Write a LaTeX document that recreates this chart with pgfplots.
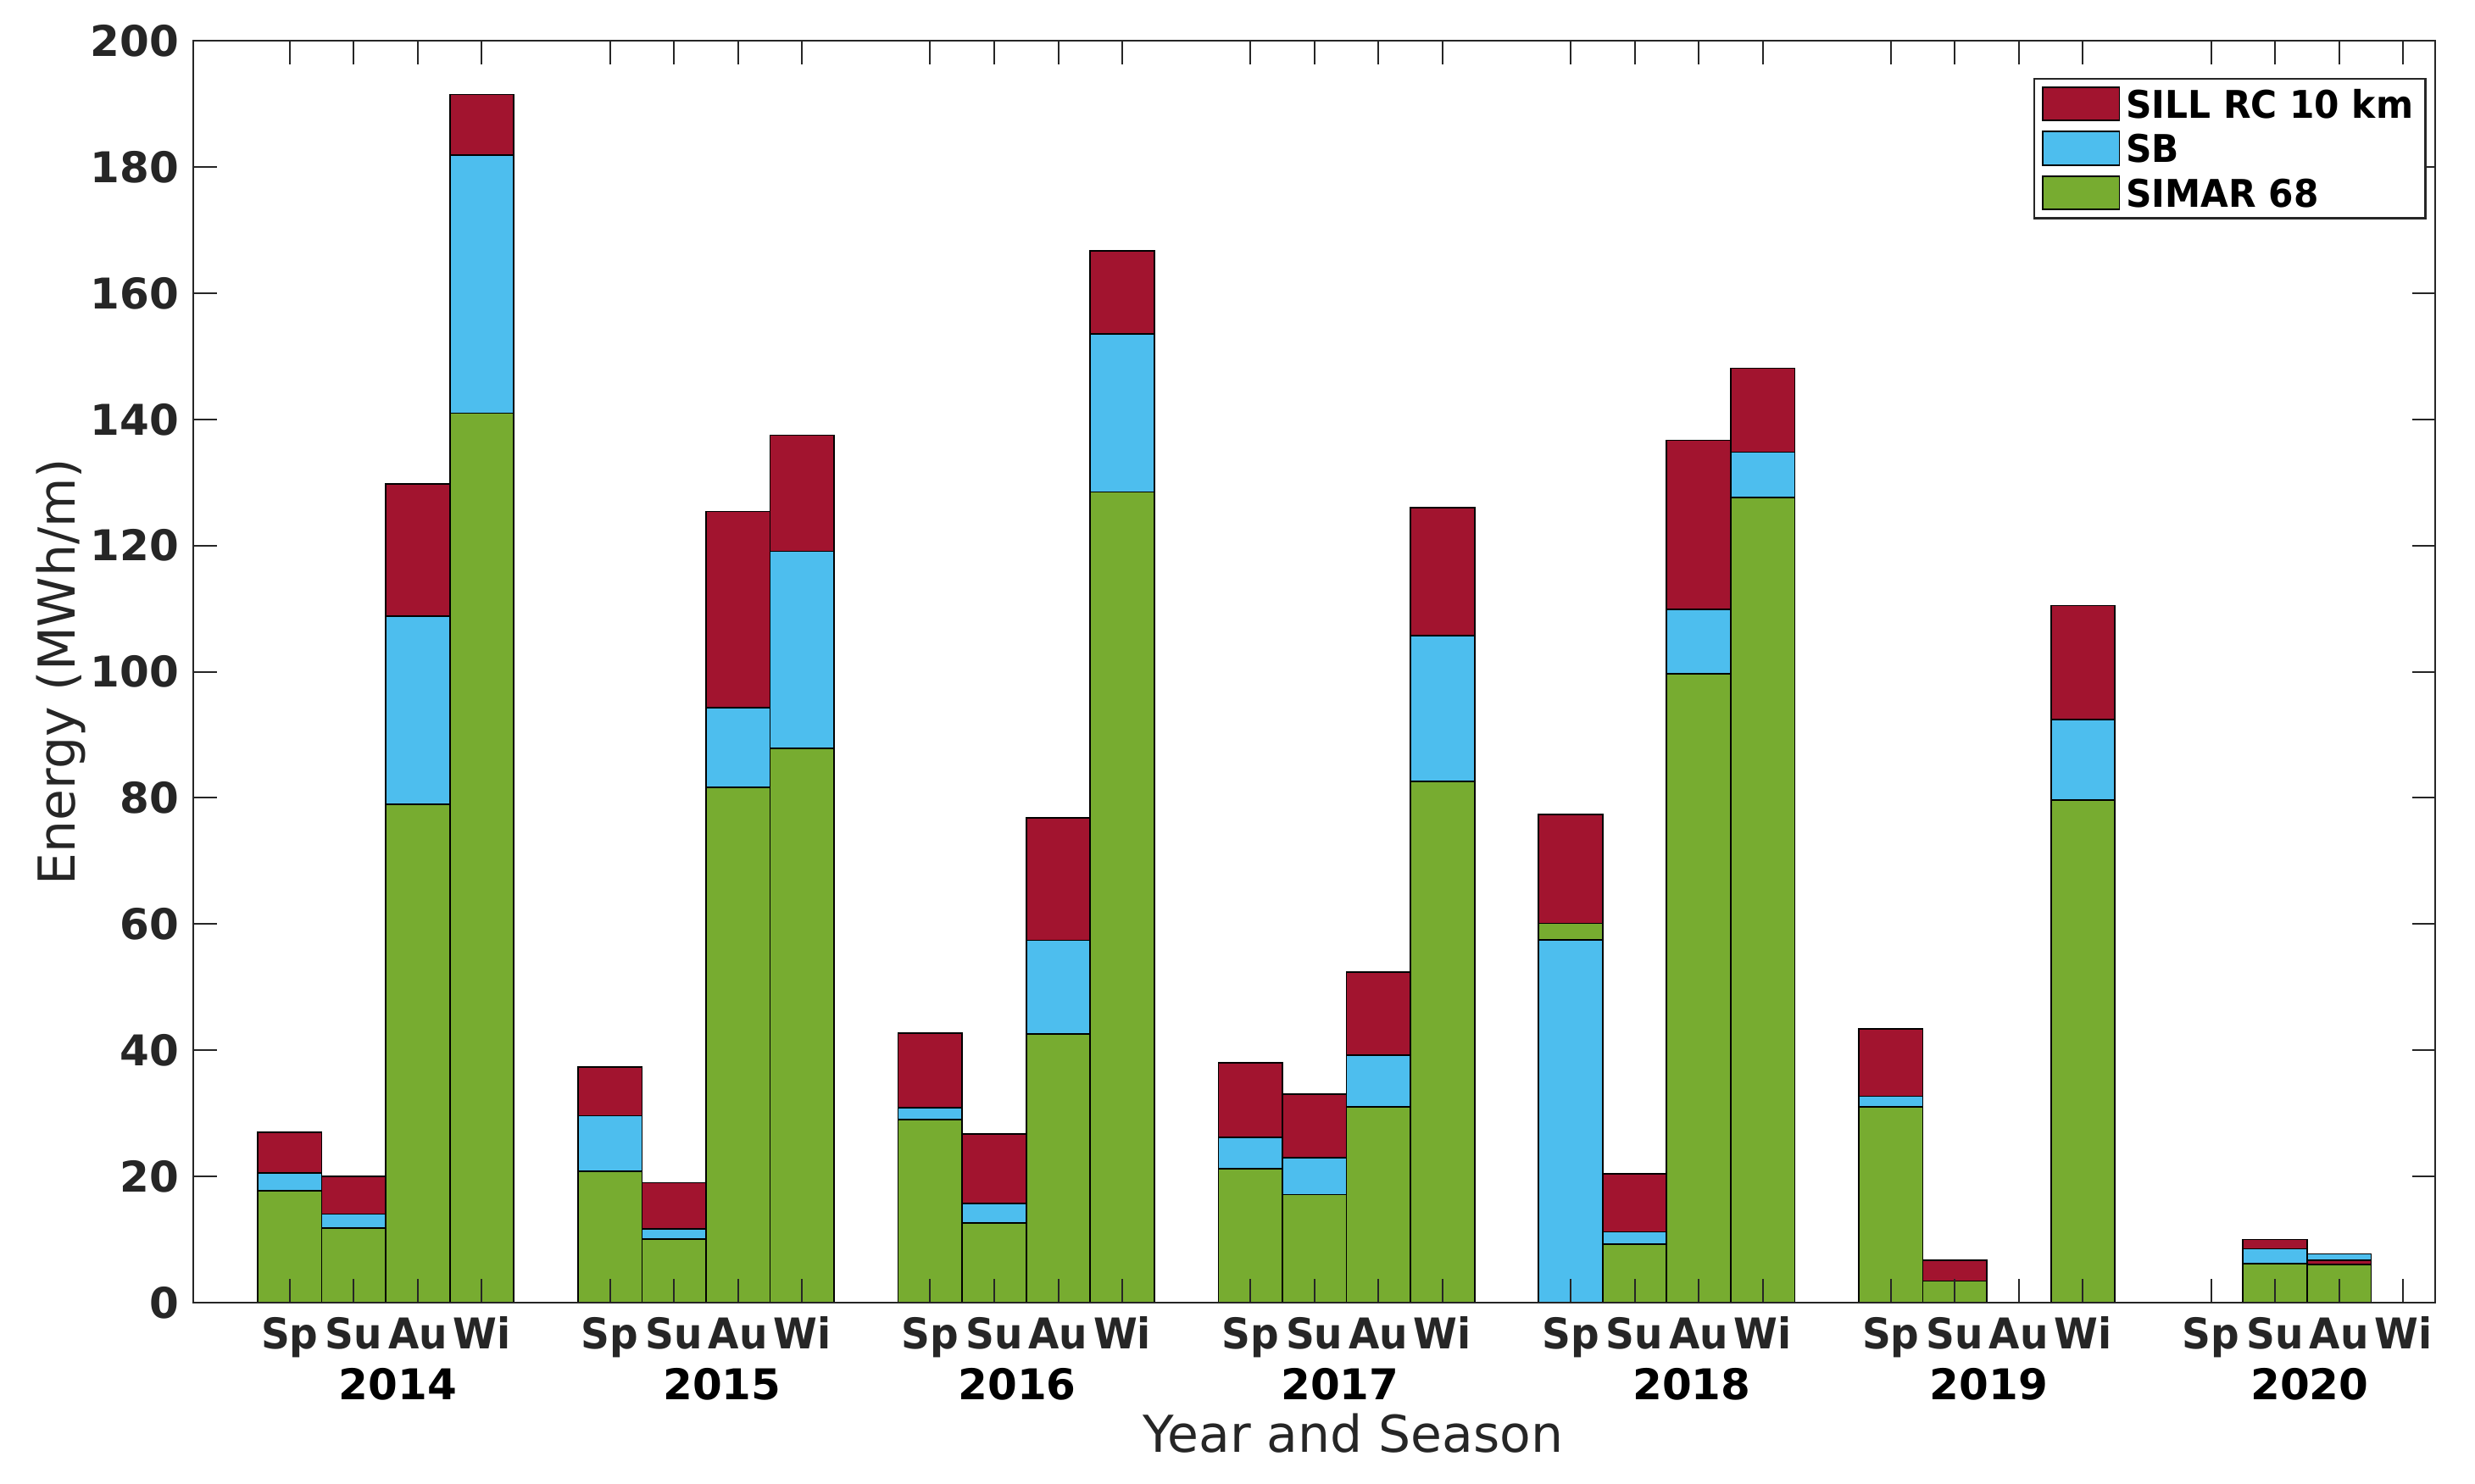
\documentclass[border=0pt]{standalone}
\usepackage{fontspec}
\setmainfont{DejaVu Sans}
\newfontfamily\narrowfont{DejaVu Sans}[FakeStretch=0.94]
\usepackage{pgfplots}
\pgfplotsset{compat=1.18}
\definecolor{sillred}{HTML}{A2142F}
\definecolor{sbblue}{HTML}{4DBEEE}
\definecolor{simargreen}{HTML}{77AC30}
\definecolor{axgray}{HTML}{262626}

\pgfplotsset{
  seasonbar/.style={ybar, bar width=1, bar shift=0pt, draw=black, line width=0.35pt},
}

\begin{document}
\begin{tikzpicture}
\begin{axis}[
  scale only axis,
  width=528.9pt, height=297.7pt,
  xmin=-1.5, xmax=33.5,
  ymin=0, ymax=200,
  ytick={0,20,...,200},
  xtick={0,1,2,3,5,6,7,8,10,11,12,13,15,16,17,18,20,21,22,23,25,26,27,28,30,31,32,33},
  xticklabels={Sp,Su,Au,Wi,Sp,Su,Au,Wi,Sp,Su,Au,Wi,Sp,Su,Au,Wi,Sp,Su,Au,Wi,Sp,Su,Au,Wi,Sp,Su,Au,Wi},
  extra x ticks={1.69,6.75,11.36,16.40,21.89,26.53,31.54},
  extra x tick labels={2014,2015,2016,2017,2018,2019,2020},
  extra x tick style={major tick length=0pt,
    xticklabel style={yshift=-12pt, text=black, font=\fontsize{10}{12}\selectfont\bfseries}},
  tick align=inside,
  major tick length=5.5pt,
  tick style={draw=axgray, line width=0.4pt},
  axis line style={draw=axgray, line width=0.4pt},
  axis on top,
  tick label style={font=\fontsize{10}{12}\selectfont\bfseries, text=axgray},
  xticklabel style={anchor=base, yshift=-10.9pt, font=\narrowfont\fontsize{10}{12}\selectfont\bfseries},
  /pgf/number format/assume math mode=true,
  every axis y label/.style={at={(axis description cs:-0.0531,0.5)}, rotate=90, anchor=base,
    font=\fontsize{12}{14}\selectfont, text=axgray},
  every axis x label/.style={at={(axis description cs:0.5174,-0.1184)}, anchor=base,
    font=\fontsize{12}{14}\selectfont, text=axgray},
  ylabel={Energy (MWh/m)},
  xlabel={Year and Season},
  legend style={at={(0.9962,0.9709)}, anchor=north east, draw=axgray, line width=0.5pt,
    font=\narrowfont\fontsize{9}{10.5}\selectfont\bfseries, inner xsep=1.9pt, inner ysep=0.7pt,
    cells={anchor=west}, column sep=0.4pt,
    nodes={inner xsep=1pt, inner ysep=1.55pt, text height=7pt, text depth=0.4pt}},
  legend image code/.code={\draw[#1] (0pt,-3.95pt) rectangle (18pt,3.95pt);},
]
% SB bar that sits behind SILL (2020 Au)
\addplot[seasonbar, fill=sbblue, forget plot] coordinates {(32,7.7)};
% SILL RC 10 km
\addplot[seasonbar, fill=sillred] coordinates {
  (0,27.0) (1,20.0) (2,129.8) (3,191.5)
  (5,37.3) (6,19.0) (7,125.4) (8,137.5)
  (10,42.7) (11,26.7) (12,76.8) (13,166.7)
  (15,38.0) (16,33.0) (17,52.4) (18,126.0)
  (20,77.4) (21,20.4) (22,136.7) (23,148.1)
  (25,43.4) (26,6.7) (28,110.5)
  (31,10.0) (32,6.7)
};
% SB
\addplot[seasonbar, fill=sbblue] coordinates {
  (0,20.5) (1,14.0) (2,108.8) (3,181.9)
  (5,29.6) (6,11.7) (7,94.3) (8,119.1)
  (10,30.9) (11,15.7) (12,57.4) (13,153.5)
  (15,26.2) (16,23.0) (17,39.2) (18,105.7)
  (21,11.2) (22,109.9) (23,134.8)
  (25,32.7) (28,92.4)
  (31,8.5)
};
% SIMAR 68
\addplot[seasonbar, fill=simargreen] coordinates {
  (0,17.7) (1,11.8) (2,79.0) (3,141.0)
  (5,20.8) (6,10.1) (7,81.7) (8,87.8)
  (10,29.0) (11,12.6) (12,42.6) (13,128.5)
  (15,21.2) (16,17.1) (17,31.0) (18,82.6)
  (20,60.1) (21,9.2) (22,99.7) (23,127.6)
  (25,31.0) (26,3.4) (28,79.6)
  (31,6.2) (32,6.0)
};
% SB bar in front of SIMAR (2018 Sp)
\addplot[seasonbar, fill=sbblue, forget plot] coordinates {(20,57.5)};
\legend{SILL RC 10 km, SB, SIMAR 68}
\coordinate (BL) at (axis description cs:-0.0864,-0.1437);
\coordinate (TR) at (axis description cs:1.01777,1.03244);
\end{axis}
\pgfresetboundingbox
\path[use as bounding box] (BL) rectangle (TR);
\end{tikzpicture}
\end{document}
